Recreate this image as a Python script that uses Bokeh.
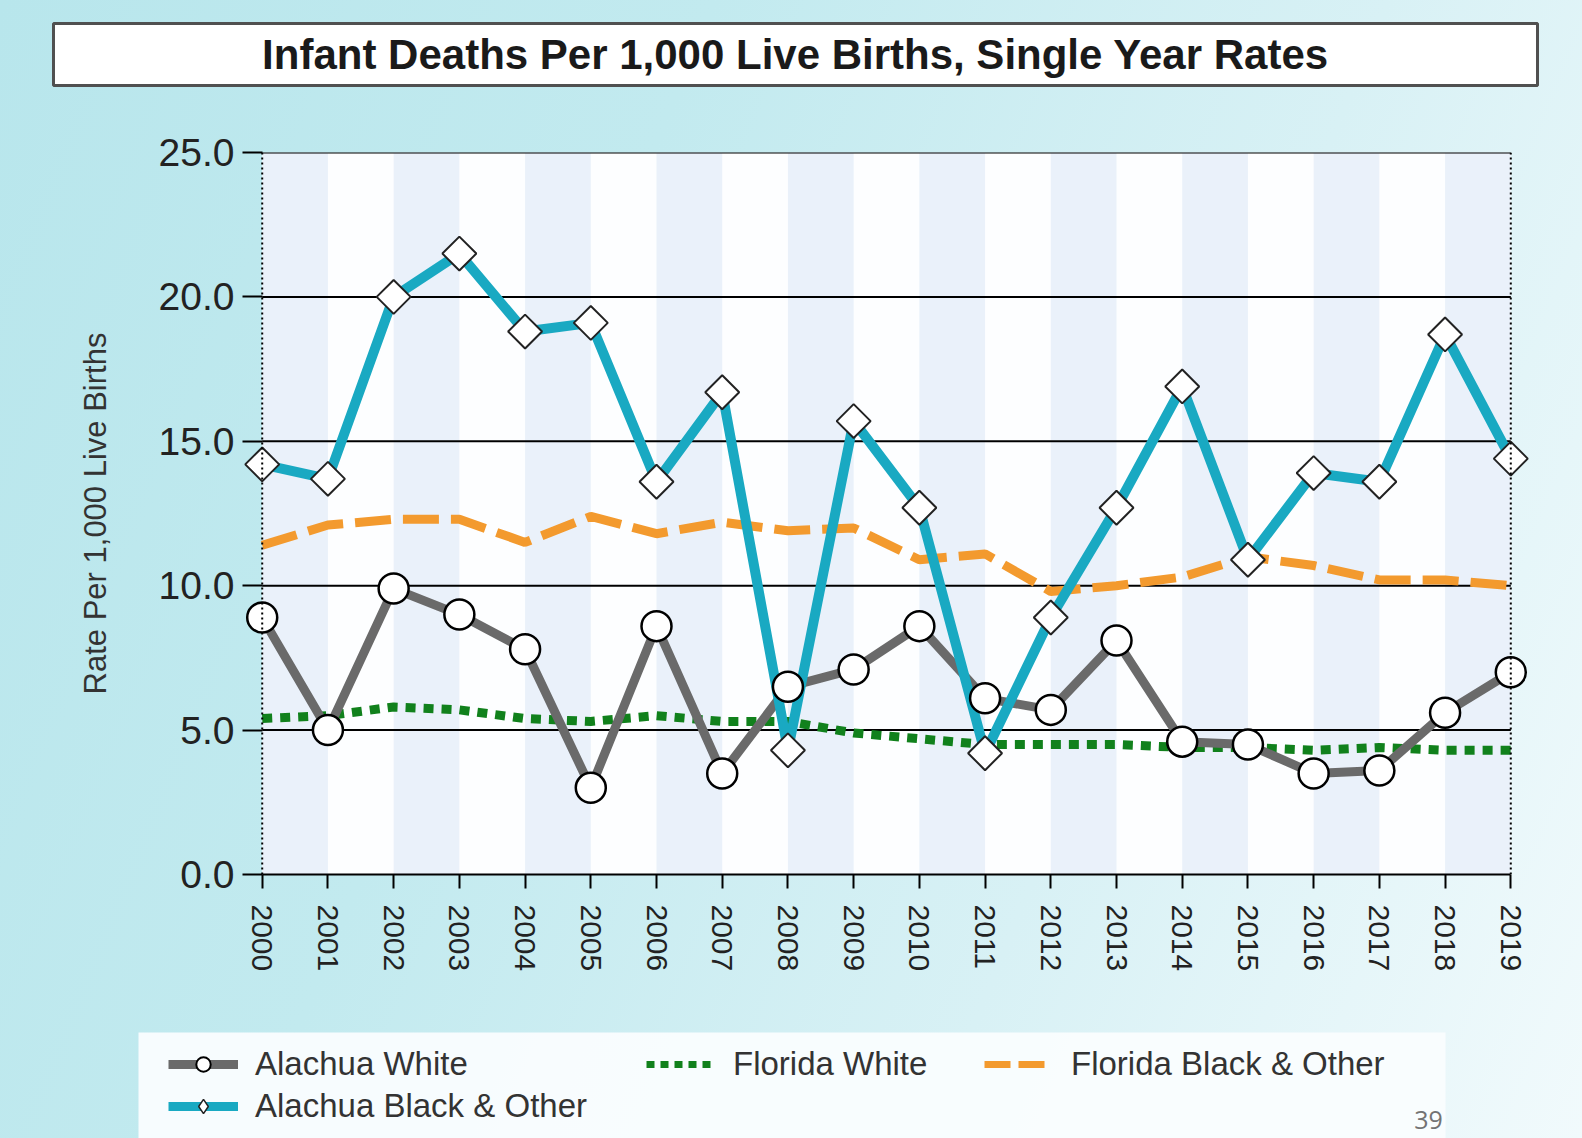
import math
from bokeh.plotting import figure
from bokeh.layouts import column
from bokeh.models import (Range1d, FixedTicker, NumeralTickFormatter, Span,
                          Legend, LegendItem, ColumnDataSource)
from bokeh.core.properties import value
from bokeh.embed import file_html
from bokeh.resources import INLINE

# ---------------- data ----------------
YEARS = [2000, 2001, 2002, 2003, 2004, 2005, 2006, 2007, 2008, 2009,
         2010, 2011, 2012, 2013, 2014, 2015, 2016, 2017, 2018, 2019]
ALACHUA_WHITE = [8.9, 5.0, 9.9, 9.0, 7.8, 3.0, 8.6, 3.5, 6.5, 7.1,
                 8.6, 6.1, 5.7, 8.1, 4.6, 4.5, 3.5, 3.6, 5.6, 7.0]
ALACHUA_BLACK = [14.2, 13.7, 20.0, 21.5, 18.8, 19.1, 13.6, 16.7, 4.3, 15.7,
                 12.7, 4.2, 8.9, 12.7, 16.9, 10.9, 13.9, 13.6, 18.7, 14.4]
FLORIDA_WHITE = [5.4, 5.5, 5.8, 5.7, 5.4, 5.3, 5.5, 5.3, 5.3, 4.9,
                 4.7, 4.5, 4.5, 4.5, 4.4, 4.4, 4.3, 4.4, 4.3, 4.3]
FLORIDA_BLACK = [11.4, 12.1, 12.3, 12.3, 11.5, 12.4, 11.8, 12.2, 11.9, 12.0,
                 10.9, 11.1, 9.8, 10.0, 10.3, 11.0, 10.7, 10.2, 10.2, 10.0]
Y_TICKS = [0, 5, 10, 15, 20, 25]
TITLE = "Infant Deaths Per 1,000 Live Births, Single Year Rates"
Y_LABEL = "Rate Per 1,000 Live Births"
SERIES_NAMES = ["Alachua White", "Alachua Black & Other", "Florida White", "Florida Black & Other"]
PAGE_NUMBER = "39"

# ---------------- styling ----------------
C_GRAY = "#6a6a6a"
C_TEAL = "#19a9c2"
C_GREEN = "#11811c"
C_ORANGE = "#f39a2e"
FONT = "Liberation Sans"
GRADIENT = "linear-gradient(112deg, #b8e6ec 0%, #c2eaef 35%, #d8f1f5 68%, #f1fafc 100%)"

W = 1582
H_TOP, H_MAIN, H_BOT = 120, 880, 138
XPAD = 0.3  # room so edge markers are not clipped


def bare_figure(height):
    f = figure(width=W, height=height, output_backend="svg", toolbar_location=None,
               x_range=Range1d(0, W), y_range=Range1d(0, height),
               x_axis_type=None, y_axis_type=None, frame_align=False,
               min_border=0, min_border_left=0, min_border_right=0,
               min_border_top=0, min_border_bottom=0)
    f.grid.visible = False
    f.outline_line_color = None
    f.border_fill_color = None
    f.background_fill_color = None
    return f


# ---------------- title strip ----------------
top = bare_figure(H_TOP)
top.quad(left=53, right=1537, bottom=H_TOP - 85, top=H_TOP - 23,
         fill_color="white", line_color="#505050", line_width=3)
top.text(x=[795], y=[H_TOP - 54], text=[TITLE], text_align="center", text_baseline="middle",
         text_font=value(FONT), text_font_style="bold", text_font_size="42px",
         text_color="#1a1a1a")

# ---------------- main chart ----------------
p = figure(width=W, height=H_MAIN, output_backend="svg", toolbar_location=None,
           x_range=Range1d(YEARS[0] - XPAD, YEARS[-1] + XPAD),
           y_range=Range1d(Y_TICKS[0], Y_TICKS[-1]), frame_align=False,
           min_border_left=242, min_border_right=52, min_border_top=32, min_border_bottom=126)
p.border_fill_color = None
p.background_fill_color = None
p.outline_line_color = None
p.grid.visible = False

# plot-area background and vertical stripes
p.quad(left=[YEARS[0]], right=[YEARS[-1]], bottom=Y_TICKS[0], top=Y_TICKS[-1],
       fill_color="#fdfeff", line_color=None, level="image")
p.quad(left=YEARS[0:-1:2], right=YEARS[1::2], bottom=Y_TICKS[0], top=Y_TICKS[-1],
       fill_color="#eaf1fa", line_color=None, level="image")

# horizontal grid lines between the first and last year
p.segment(x0=YEARS[0], x1=YEARS[-1], y0=Y_TICKS[1:], y1=Y_TICKS[1:],
          line_color="black", line_width=2, level="underlay")

# dotted vertical boundary lines
for loc in (YEARS[0], YEARS[-1]):
    p.add_layout(Span(location=loc, dimension="height", line_color="black",
                      line_width=2, line_dash="2 3"))

# x axis
p.xaxis.ticker = FixedTicker(ticks=YEARS)
p.xaxis.bounds = (YEARS[0], YEARS[-1])
p.xaxis.major_label_orientation = -math.pi / 2
p.xaxis.axis_line_color = "black"
p.xaxis.axis_line_width = 2
p.xaxis.major_tick_line_color = "black"
p.xaxis.major_tick_line_width = 2
p.xaxis.major_tick_out = 14
p.xaxis.major_tick_in = 0
p.xaxis.minor_tick_line_color = None
p.xaxis.major_label_standoff = 16
p.xaxis.major_label_text_font = FONT
p.xaxis.major_label_text_font_size = "30px"
p.xaxis.major_label_text_color = "#222222"

# y axis (ticks drawn inward up to the first year)
p.yaxis.ticker = FixedTicker(ticks=Y_TICKS)
p.yaxis.formatter = NumeralTickFormatter(format="0.0")
p.yaxis.axis_line_color = None
p.yaxis.major_tick_line_color = "black"
p.yaxis.major_tick_line_width = 2
p.yaxis.major_tick_out = 0
p.yaxis.major_tick_in = 20
p.yaxis.minor_tick_line_color = None
p.yaxis.major_label_standoff = 8
p.yaxis.major_label_text_font = FONT
p.yaxis.major_label_text_font_size = "39px"
p.yaxis.major_label_text_color = "#222222"
p.yaxis.axis_label = Y_LABEL
p.yaxis.axis_label_text_font = FONT
p.yaxis.axis_label_text_font_style = "normal"
p.yaxis.axis_label_text_font_size = "31px"
p.yaxis.axis_label_text_color = "#333333"
p.yaxis.axis_label_standoff = 43

# series
p.line(YEARS, FLORIDA_WHITE, line_color=C_GREEN, line_width=9, line_dash="10 8")
p.line(YEARS, FLORIDA_BLACK, line_color=C_ORANGE, line_width=9, line_dash="36 12")
p.line(YEARS, ALACHUA_WHITE, line_color=C_GRAY, line_width=9, line_join="round")
p.line(YEARS, ALACHUA_BLACK, line_color=C_TEAL, line_width=10, line_join="round")
p.scatter(YEARS, ALACHUA_WHITE, marker="circle", size=30, fill_color="white",
          line_color="black", line_width=2.5)
p.scatter(YEARS, ALACHUA_BLACK, marker="square", angle=math.pi / 4, size=24,
          fill_color="white", line_color="#222222", line_width=2)

# ---------------- legend strip ----------------
bot = bare_figure(H_BOT)
bot.quad(left=138, right=1445, bottom=-10, top=H_BOT - 32,
         fill_color="#fafdfe", fill_alpha=0.95, line_color=None)
bot.text(x=[1428], y=[H_BOT - 1110 + (H_TOP + H_MAIN)], text=[PAGE_NUMBER],
         text_align="center", text_baseline="top", text_font=value("Open Sans"),
         text_font_size="25px", text_color="#737373")

# legend-only renderers: a single point placed off-canvas so nothing shows
hidden = ColumnDataSource(data=dict(x=[-500], y=[-500]))
lg_aw_l = bot.line("x", "y", source=hidden, line_color=C_GRAY, line_width=9)
lg_aw_m = bot.scatter("x", "y", source=hidden, marker="circle", size=14, fill_color="white",
                      line_color="black", line_width=2)
lg_ab_l = bot.line("x", "y", source=hidden, line_color=C_TEAL, line_width=9)
lg_ab_m = bot.scatter("x", "y", source=hidden, marker="diamond", size=16,
                      fill_color="white", line_color="#222222", line_width=1.5)
lg_fw = bot.line("x", "y", source=hidden, line_color=C_GREEN, line_width=7, line_dash="8 6")
lg_fb = bot.line("x", "y", source=hidden, line_color=C_ORANGE, line_width=7,
                 line_dash="26 8 26 20")


def make_legend(items, x, bottom_y):
    leg = Legend(items=items, location=(x, bottom_y), orientation="vertical",
                 background_fill_alpha=0, border_line_alpha=0, padding=0, margin=0,
                 spacing=4, glyph_width=70, glyph_height=36, label_height=38,
                 label_standoff=17, label_text_font=FONT, label_text_font_size="33px",
                 label_text_color="#333333")
    bot.add_layout(leg, "center")


make_legend([LegendItem(label=SERIES_NAMES[0], renderers=[lg_aw_l, lg_aw_m]),
             LegendItem(label=SERIES_NAMES[1], renderers=[lg_ab_l, lg_ab_m])], 168, 13)
make_legend([LegendItem(label=SERIES_NAMES[2], renderers=[lg_fw])], 646, 55)
make_legend([LegendItem(label=SERIES_NAMES[3], renderers=[lg_fb])], 984, 55)

layout = column(top, p, bot, spacing=0)
layout.styles = {"background": GRADIENT}

open("out.html", "w").write(file_html(layout, INLINE))
